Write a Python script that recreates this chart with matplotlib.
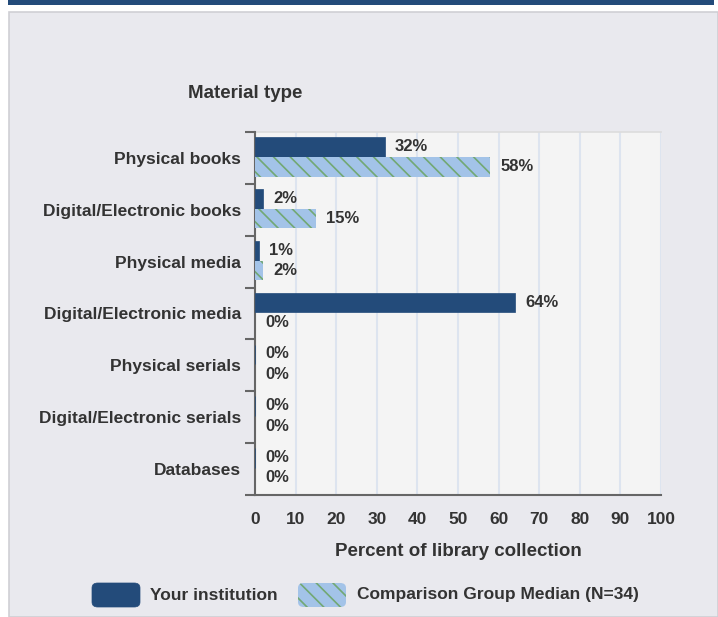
import matplotlib
matplotlib.use("Agg")
import matplotlib.pyplot as plt
import numpy as np
from matplotlib.patches import Rectangle, FancyBboxPatch

categories = ["Physical books", "Digital/Electronic books", "Physical media",
              "Digital/Electronic media", "Physical serials",
              "Digital/Electronic serials", "Databases"]
your_institution = [32, 2, 1, 64, 0, 0, 0]
comparison_median = [58, 15, 2, 0, 0, 0, 0]
x_ticks = [0, 10, 20, 30, 40, 50, 60, 70, 80, 90, 100]
series_names = ["Your institution", "Comparison Group Median (N=34)"]

plt.rcParams['font.family'] = ['Liberation Sans', 'DejaVu Sans']
plt.rcParams['hatch.linewidth'] = 1.2

DARK = '#234b7a'
LIGHT = '#a3c3e8'
HATCH = '#72a874'
TXT = '#333333'
FS = 12.5

W, H = 718, 617
fig = plt.figure(figsize=(W / 100, H / 100), dpi=100)
fig.patch.set_facecolor('white')

# panel background and top banner
fig.patches.append(Rectangle((9 / W, 0), 1 - 9 / W, (H - 12) / H, transform=fig.transFigure,
                             facecolor='#e9e9ee', edgecolor='#cfcfd4', linewidth=1.2, zorder=-10))
fig.patches.append(Rectangle((8 / W, (H - 5) / H), (714 - 8) / W, 5 / H, transform=fig.transFigure,
                             facecolor=DARK, edgecolor='none', zorder=-10))

ax = fig.add_axes([255 / W, (H - 495) / H, (661 - 255) / W, (495 - 132) / H])
ax.set_zorder(1)
ax.set_facecolor('#f4f4f4')

n = len(categories)
y = np.arange(n)
h = 0.38
ax.barh(y - h / 2 - 0.02, your_institution, height=h, color=DARK, edgecolor=DARK,
        linewidth=0.5, zorder=3)
ax.barh(y + h / 2 - 0.02, comparison_median, height=h, color=LIGHT, edgecolor=HATCH,
        linewidth=0, hatch='\\\\', zorder=3)

for i in range(n):
    ax.text(your_institution[i] + 2.5, y[i] - h / 2 - 0.03, f"{your_institution[i]}%",
            va='center', ha='left', fontsize=FS - 0.5, fontweight='bold', color=TXT, zorder=4)
    ax.text(comparison_median[i] + 2.5, y[i] + h / 2 - 0.02, f"{comparison_median[i]}%",
            va='center', ha='left', fontsize=FS - 0.5, fontweight='bold', color=TXT, zorder=4)

ax.set_xlim(0, 100)
ax.set_ylim(n - 0.5, -0.5)
ax.set_xticks(x_ticks)
ax.set_xticklabels([str(t) for t in x_ticks], fontsize=FS, fontweight='bold', color=TXT)
ax.set_yticks(y)
ax.set_yticklabels(categories, fontsize=FS, fontweight='bold', color=TXT)
ax.set_yticks(np.arange(n + 1) - 0.5, minor=True)
ax.tick_params(axis='y', which='major', length=0, pad=10)
ax.tick_params(axis='y', which='minor', length=7, width=1.5, color='#666666')
ax.tick_params(axis='x', which='major', length=0, pad=12)
ax.set_xticks([0], minor=True)
ax.tick_params(axis='x', which='minor', length=4, width=1.2, color='#666666')

ax.grid(axis='x', color='#dde4ef', linewidth=1.5, zorder=0)
ax.set_axisbelow(True)
for s in ['top', 'right']:
    ax.spines[s].set_visible(False)
for s in ['left', 'bottom']:
    ax.spines[s].set_color('#666666')
    ax.spines[s].set_linewidth(1.5)
ax.spines['bottom'].set_zorder(5)
ax.plot([0, 100], [-0.5, -0.5], color='#dcdcdc', linewidth=1.2, zorder=1, clip_on=False)

ax.set_xlabel("Percent of library collection", fontsize=FS + 1, fontweight='bold', color=TXT, labelpad=12)

fig.text(245 / W, 1 - 93 / H, "Material type", ha='center', va='center',
         fontsize=FS + 1, fontweight='bold', color=TXT)

# legend
ly = 1 - 607 / H
lh = 24 / H
fig.patches.append(FancyBboxPatch((92 / W, ly), 48 / W, lh, transform=fig.transFigure,
                                  boxstyle="round,pad=0,rounding_size=0.008",
                                  facecolor=DARK, edgecolor=DARK, linewidth=0.5, zorder=2))
fig.patches.append(FancyBboxPatch((298 / W, ly), 48 / W, lh, transform=fig.transFigure,
                                  boxstyle="round,pad=0,rounding_size=0.008",
                                  facecolor=LIGHT, edgecolor=HATCH, hatch='\\\\', linewidth=0,
                                  zorder=2))
fig.text(150 / W, 1 - 595 / H, series_names[0], ha='left', va='center',
         fontsize=FS, fontweight='bold', color=TXT)
fig.text(357 / W, 1 - 595 / H, series_names[1], ha='left', va='center',
         fontsize=FS, fontweight='bold', color=TXT)

fig.savefig("out.png", dpi=100)
